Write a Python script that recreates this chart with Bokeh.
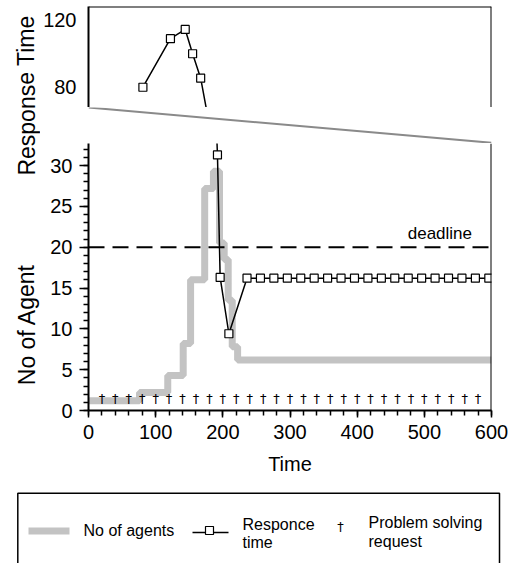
from bokeh.plotting import figure
from bokeh.layouts import column, row
from bokeh.models import Range1d, Span, SingleIntervalTicker, FixedTicker
from bokeh.core.properties import value
from bokeh.embed import file_html
from bokeh.resources import INLINE

FONT = "Liberation Sans"

# ---------------- data ----------------
agent_time = [0, 76, 118, 141, 152, 173, 186, 195, 202, 208, 214, 222, 600]
agent_count = [1.2, 2.2, 4.3, 8.2, 16, 27.2, 29.3, 20.5, 18.5, 13.5, 7.8, 6.2, 6.2]

resp_time = [81, 122, 144, 155, 167, 192, 196, 209, 236, 256, 276, 296, 316, 336,
             356, 376, 396, 416, 436, 456, 476, 496, 516, 536, 556, 576, 596]
resp_value = [80, 109, 114.5, 100, 85.4, 31.3, 16.3, 9.4, 16.2, 16.2, 16.2, 16.2, 16.2, 16.2,
              16.2, 16.2, 16.2, 16.2, 16.2, 16.2, 16.2, 16.2, 16.2, 16.2, 16.2, 16.2, 16.2]

request_time = [20, 40, 60, 80, 100, 120, 140, 160, 180, 200, 220, 240, 260, 280, 300,
                320, 340, 360, 380, 400, 420, 440, 460, 480, 500, 520, 540, 560, 580]
request_level = [1.5] * len(request_time)

deadline = 20
top_ticks = [80, 120]

AGENT_COLOR = "#c3c3c3"

# ---------------- geometry ----------------
TITLE_W = 40
PANEL_W = 513 - TITLE_W
LEFT = 47
RIGHT = PANEL_W - LEFT - 404
X_RANGE = (0, 600)
TOP_Y = (67.9, 128.2)


def clean(p):
    p.outline_line_color = None
    p.grid.visible = False
    p.background_fill_color = "white"
    p.border_fill_color = "white"


# ---------- top panel (response time, upper part of the broken axis) ----------
top = figure(width=PANEL_W, height=107, output_backend="svg", toolbar_location=None,
             x_range=Range1d(*X_RANGE), y_range=Range1d(*TOP_Y),
             x_axis_location=None, min_border_left=LEFT, min_border_right=RIGHT,
             min_border_top=6, min_border_bottom=0)
clean(top)
top.yaxis.ticker = FixedTicker(ticks=top_ticks)
top.yaxis.major_tick_out = 0
top.yaxis.major_tick_in = 0
top.yaxis.minor_tick_line_color = None
top.yaxis.major_label_standoff = 12
top.yaxis.major_label_text_font = FONT
top.yaxis.major_label_text_font_size = "20px"
top.yaxis.major_label_text_color = "black"
top.yaxis.axis_line_width = 2
top.add_layout(Span(location=TOP_Y[1], dimension="width", line_color="black", line_width=2))
top.add_layout(Span(location=X_RANGE[1], dimension="height", line_color="black", line_width=2))
top.line(resp_time, resp_value, line_color="black", line_width=1.5)
top.scatter(resp_time, resp_value, marker="square", size=8, fill_color="white",
            line_color="black", line_width=1.2)

# ---------- middle gap (break indicator) ----------
mid = figure(width=PANEL_W, height=36, output_backend="svg", toolbar_location=None,
             x_range=Range1d(*X_RANGE), y_range=Range1d(0, 1),
             x_axis_location=None, y_axis_location=None,
             min_border_left=LEFT, min_border_right=RIGHT, min_border_top=0, min_border_bottom=0)
clean(mid)
mid.segment(x0=[X_RANGE[0]], y0=[1], x1=[X_RANGE[1]], y1=[0.02],
            line_color="#8a8a8a", line_width=2)

# ---------- bottom panel ----------
bot = figure(width=PANEL_W, height=342, output_backend="svg", toolbar_location=None,
             x_range=Range1d(*X_RANGE), y_range=Range1d(0, 32.7),
             min_border_left=LEFT, min_border_right=RIGHT, min_border_top=0, min_border_bottom=75)
clean(bot)
for ax in (bot.xaxis, bot.yaxis):
    ax.axis_line_width = 2
    ax.major_tick_line_width = 1.5
    ax.minor_tick_line_width = 1.5
    ax.major_tick_in = 0
    ax.minor_tick_in = 0
    ax.major_label_text_font = FONT
    ax.major_label_text_font_size = "20px"
    ax.major_label_text_color = "black"
    ax.major_label_standoff = 7
bot.xaxis.ticker = SingleIntervalTicker(interval=100, num_minor_ticks=5)
bot.yaxis.ticker = SingleIntervalTicker(interval=5, num_minor_ticks=5)
bot.xaxis.major_tick_out = 7
bot.xaxis.minor_tick_out = 5
bot.yaxis.major_tick_out = 9
bot.yaxis.minor_tick_out = 5
bot.xaxis.axis_label = "Time"
bot.xaxis.axis_label_text_font = FONT
bot.xaxis.axis_label_text_font_size = "20px"
bot.xaxis.axis_label_text_font_style = "normal"
bot.xaxis.axis_label_text_color = "black"
bot.xaxis.axis_label_standoff = 11
bot.add_layout(Span(location=X_RANGE[1], dimension="height", line_color="black", line_width=2))

bot.step(agent_time, agent_count, mode="after", line_color=AGENT_COLOR, line_width=7)
bot.add_layout(Span(location=deadline, dimension="width", line_color="black",
                    line_width=2, line_dash="16 8"))
bot.text(x=[571], y=[deadline + 1.7], text=["deadline"], text_align="right",
         text_baseline="alphabetic", text_font=value(FONT), text_font_size="17px",
         text_color="black")
bot.line(resp_time, resp_value, line_color="black", line_width=1.5)
bot.scatter(resp_time, resp_value, marker="square", size=8, fill_color="white",
            line_color="black", line_width=1.2)
bot.text(x=request_time, y=request_level, text=["\u2020"] * len(request_time),
         text_align="center", text_baseline="middle", text_font=value("DejaVu Sans"),
         text_font_size="13px", text_color="black")

# ---------- axis titles column ----------
titles = figure(width=TITLE_W, height=485, output_backend="svg", toolbar_location=None,
                x_range=Range1d(0, TITLE_W), y_range=Range1d(485, 0),
                x_axis_location=None, y_axis_location=None, min_border=0)
clean(titles)
titles.text(x=[26, 26], y=[95, 324], text=["Response Time", "No of Agent"],
            angle=[1.5708, 1.5708], text_align="center", text_baseline="middle",
            text_font=value(FONT), text_font_size="23px", text_color="black")

# ---------- legend ----------
leg = figure(width=513, height=78, output_backend="svg", toolbar_location=None,
             x_range=Range1d(0, 513), y_range=Range1d(563, 485),
             x_axis_location=None, y_axis_location=None, min_border=0)
clean(leg)
leg.line(x=[17.3, 17.3, 499, 499], y=[570, 492.7, 492.7, 570], line_color="black", line_width=1.5)
leg.segment(x0=[28], y0=[530.5], x1=[69], y1=[530.5], line_color=AGENT_COLOR, line_width=7)
leg.text(x=[83], y=[530], text=["No of agents"], text_font=value(FONT), text_font_size="16px",
         text_baseline="alphabetic", text_color="black")
leg.segment(x0=[192], y0=[532], x1=[228], y1=[532], line_color="black", line_width=1.5)
leg.scatter(x=[209], y=[530], marker="square", size=8, fill_color="white", line_color="black",
            line_width=1.2)
leg.text(x=[242, 242], y=[523.5, 542], text=["Responce", "time"], text_font=value(FONT),
         text_font_size="16px", text_baseline="alphabetic", text_color="black")
leg.text(x=[340], y=[526], text=["\u2020"], text_font=value("DejaVu Sans"), text_font_size="13px",
         text_align="center", text_baseline="middle", text_color="black")
leg.text(x=[368, 368], y=[521.5, 540.5], text=["Problem solving", "request"], text_font=value(FONT),
         text_font_size="16px", text_baseline="alphabetic", text_color="black")

layout = column(row(titles, column(top, mid, bot, spacing=0), spacing=0), leg, spacing=0)

open("out.html", "w").write(file_html(layout, INLINE))
